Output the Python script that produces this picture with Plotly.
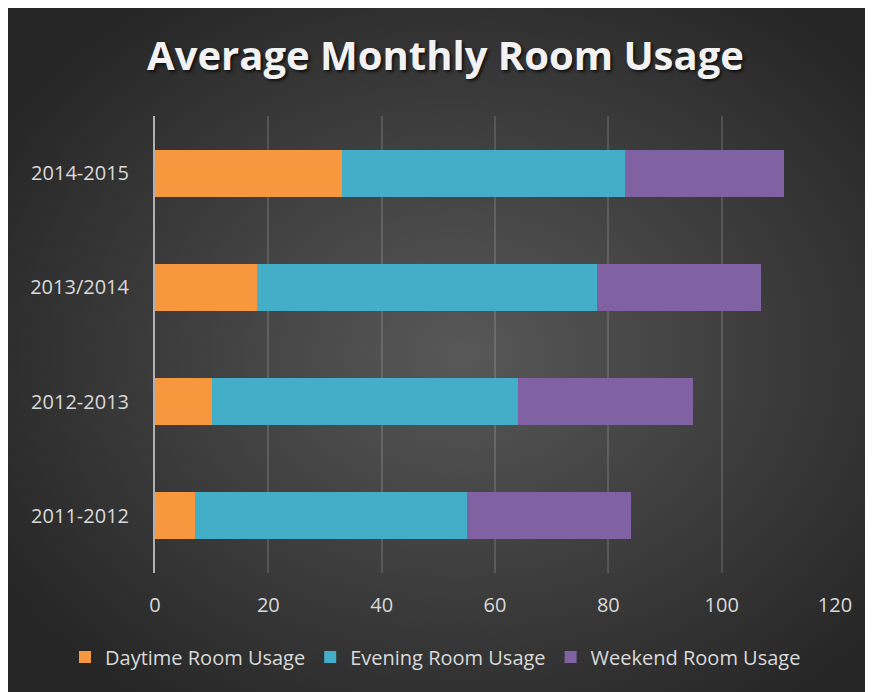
import base64
import plotly.graph_objects as go

categories = ["2011-2012", "2012-2013", "2013/2014", "2014-2015"]
daytime = [7, 10, 18, 33]
evening = [48, 54, 60, 50]
weekend = [29, 31, 29, 28]
x_ticks = [0, 20, 40, 60, 80, 100, 120]

series = [
    ("Daytime Room Usage", daytime, "#f7983f"),
    ("Evening Room Usage", evening, "#44aec9"),
    ("Weekend Room Usage", weekend, "#8062a3"),
]

W, H = 873, 692
L, R, T, B = 147, 46, 108, 127
pw, ph = W - L - R, H - T - B

svg = '''<svg xmlns="http://www.w3.org/2000/svg" width="873" height="692" viewBox="0 0 873 692" preserveAspectRatio="none">
<defs><radialGradient id="g" cx="52%" cy="50%" r="62%">
<stop offset="0%" stop-color="#585858"/><stop offset="100%" stop-color="#262626"/>
</radialGradient></defs>
<rect width="873" height="692" fill="url(#g)"/></svg>'''
src = "data:image/svg+xml;base64," + base64.b64encode(svg.encode()).decode()

fig = go.Figure()
for name, vals, col in series:
    fig.add_trace(go.Bar(
        y=categories, x=vals, name=name, orientation="h",
        marker=dict(color=col, line=dict(width=0)),
    ))

font_family = "'Open Sans', Lato, sans-serif"
fig.update_layout(
    width=W, height=H, autosize=False,
    barmode="stack", bargap=0.59,
    paper_bgcolor="#262626", plot_bgcolor="rgba(0,0,0,0)",
    margin=dict(l=L, r=R, t=T, b=B, pad=0, autoexpand=False),
    font=dict(family=font_family, color="#d9d9d9", size=20),
    title=dict(
        text="<b>Average Monthly Room Usage</b>",
        xref="container", yref="container",
        x=437.5 / W, y=1 - 48 / H, xanchor="center", yanchor="middle",
        font=dict(size=40, color="#f2f2f2", family=font_family,
                  shadow="2px 2px 3px #111"),
    ),
    xaxis=dict(
        range=[0, 120], tickvals=x_ticks, showgrid=True,
        gridcolor="rgba(255,255,255,0.14)", gridwidth=2,
        zeroline=False, showline=False, ticks="", tickangle=0,
        tickfont=dict(size=20, color="#d9d9d9"), ticklabelstandoff=18,
        fixedrange=True, automargin=False,
    ),
    yaxis=dict(
        categoryorder="array", categoryarray=categories,
        showgrid=False, zeroline=False, showline=True,
        linecolor="#b0b0b0", linewidth=2, ticks="",
        tickfont=dict(size=20, color="#d9d9d9"), ticklabelstandoff=20,
        automargin=False,
    ),
    legend=dict(
        orientation="h", x=(57 - L) / pw, xanchor="left",
        y=(T + ph - 649) / ph, yanchor="middle",
        font=dict(size=20, color="#d9d9d9"), traceorder="normal",
        bgcolor="rgba(0,0,0,0)", itemwidth=30,
    ),
    showlegend=True,
    images=[dict(
        source=src, xref="paper", yref="paper",
        x=-L / pw, y=(T + ph) / ph,
        sizex=W / pw, sizey=H / ph,
        xanchor="left", yanchor="top", sizing="stretch", layer="below",
    )],
)

fig.write_html("out.html")
